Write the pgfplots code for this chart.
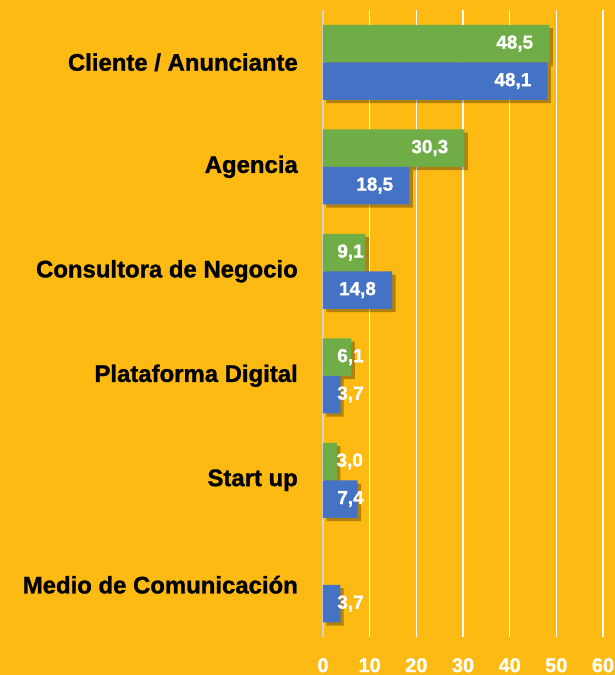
\documentclass[border=0pt]{standalone}
\usepackage{pgfplots}
\pgfplotsset{compat=1.18}
\usepackage{fontspec}
\setmainfont{Liberation Sans}[BoldFeatures={FakeBold=1.2}]
\usetikzlibrary{backgrounds,calc,shadows}

\definecolor{fondo}{RGB}{253,186,19}
\definecolor{verde}{RGB}{112,173,71}
\definecolor{azul}{RGB}{68,114,196}
\definecolor{ejegris}{RGB}{210,210,210}

% value label: right edge 16px inside the bar end, never closer than 41px to the axis
\newcommand{\etiqueta}{%
  \pgfkeys{/pgf/fpu=true,/pgf/fpu/output format=fixed}%
  \pgfmathparse{min(16,\pgfplotspointmeta*4.684-41)}\let\hueco\pgfmathresult
  \pgfkeys{/pgf/fpu=false}%
  \pgfmathprintnumber{\pgfplotspointmeta}\hspace*{\hueco pt}}

\begin{document}
\begin{tikzpicture}
\begin{axis}[
    name=ax,
    xbar,
    scale only axis,
    width=280bp, height=627bp,
    xmin=0, xmax=60,
    ymin=-0.5, ymax=5.5,
    y dir=reverse,
    ytick={0,1,2,3,4,5},
    yticklabels={Cliente / Anunciante, Agencia, Consultora de Negocio,
                 Plataforma Digital, Start up, Medio de Comunicación},
    xtick={0,10,...,60},
    axis line style={draw=none},
    major tick length=0pt,
    xmajorgrids,
    grid style={white, line width=1.6pt},
    extra x ticks={0},
    extra x tick labels={},
    extra x tick style={grid style={ejegris, line width=1.6pt}},
    /pgf/number format/assume math mode=true,
    yticklabel style={font=\bfseries\fontsize{24}{25}\selectfont, text=black,
                      inner sep=0pt, anchor=east, xshift=-25bp},
    xticklabel style={font=\bfseries\fontsize{20}{20}\selectfont, text=white,
                      inner sep=0pt, anchor=north, yshift=-21bp},
    bar width=37.5bp,
    point meta=x,
    nodes near coords={\etiqueta},
    nodes near coords style={
        font=\bfseries\fontsize{19}{19}\selectfont, text=white, inner sep=0pt,
        anchor=east,
        /pgf/number format/.cd, fixed, fixed zerofill, precision=1, use comma,
        assume math mode=true},
    sombra/.style={drop shadow={shadow xshift=3.5pt, shadow yshift=-3.5pt,
        fill=black, opacity=0.3}},
]
% Green series (upper bar of each pair)
\addplot[draw=none, fill=verde, bar shift=18.75bp, sombra]
    coordinates {(48.5,0) (30.3,1) (9.1,2) (6.1,3) (3.0,4)};
% Blue series (lower bar of each pair)
\addplot[draw=none, fill=azul, bar shift=-18.75bp, sombra]
    coordinates {(48.1,0) (18.5,1) (14.8,2) (3.7,3) (7.4,4) (3.7,5)};
\end{axis}
\begin{scope}[on background layer]
    \fill[fondo] ($(ax.south west)+(-323bp,-38bp)$) rectangle ++(615bp,675bp);
\end{scope}
\pgfresetboundingbox
\path[use as bounding box] ($(ax.south west)+(-323bp,-38bp)$) rectangle ++(615bp,675bp);
\end{tikzpicture}
\end{document}
